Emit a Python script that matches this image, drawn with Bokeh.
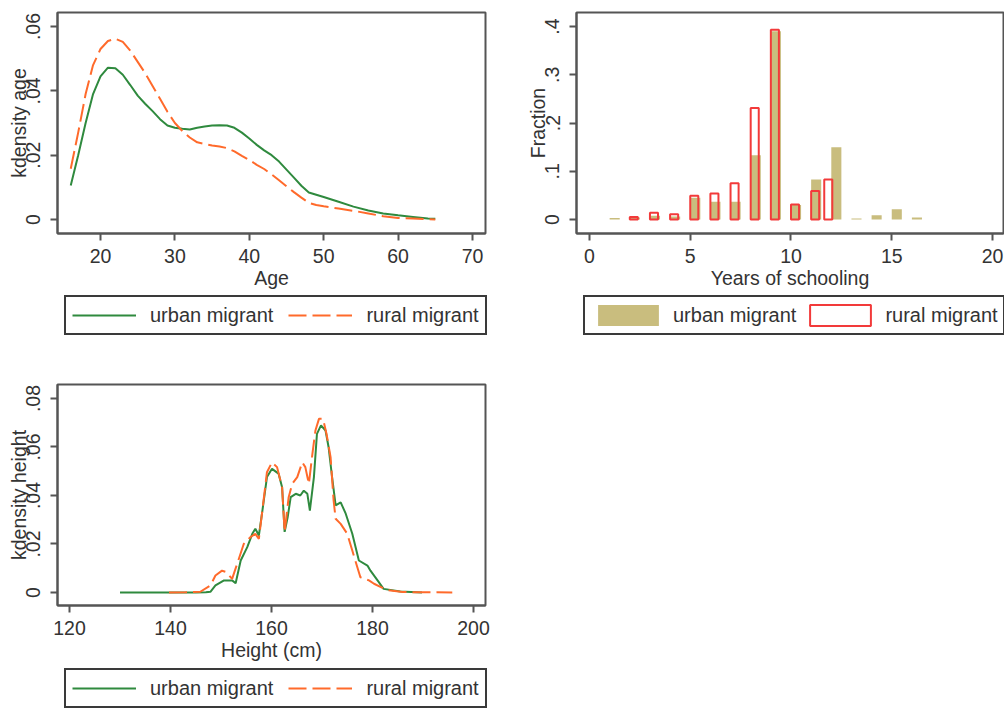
from bokeh.plotting import figure
from bokeh.layouts import column, row
from bokeh.models import Range1d, FixedTicker, Legend, LegendItem
from bokeh.embed import file_html
from bokeh.resources import INLINE

# ---------------- data ----------------
age = [16, 17, 18, 19, 20, 21, 22, 23, 24, 25, 26, 27, 28, 29, 30, 31, 32, 33, 34, 35,
       36, 37, 38, 39, 40, 41, 42, 43, 44, 45, 46, 47, 48, 49, 50, 52, 54, 56, 58, 60,
       62, 64, 65]
age_urban = [.0106, .020, .030, .039, .0445, .0472, .0470, .0450, .0418, .0385, .0360,
             .0337, .0312, .0292, .0285, .0282, .0280, .0285, .0289, .0292, .0293, .0292,
             .0285, .0270, .0252, .0232, .0215, .0200, .0180, .0155, .0130, .0105, .0084,
             .0077, .0070, .0055, .0040, .0028, .0019, .0013, .0008, .0003, .0002]
age_rural = [.0158, .027, .039, .048, .0530, .0555, .0562, .0552, .0525, .0490, .0455,
             .0415, .0375, .0335, .0300, .0275, .0255, .0240, .0235, .0230, .0227, .0222,
             .0212, .0198, .0185, .0170, .0157, .0140, .0122, .0103, .0085, .0068, .0052,
             .0045, .0041, .0034, .0027, .0019, .0010, .0005, .0003, .0001, .0]

school_urban_years = [1, 2, 3, 4, 5, 6, 7, 8, 9, 10, 11, 12, 13, 14, 15, 16]
school_urban_frac = [0.003, 0.004, 0.008, 0.006, 0.045, 0.037, 0.037, 0.133, 0.390, 0.030,
                     0.083, 0.150, 0.002, 0.009, 0.021, 0.004]
school_rural_years = [2, 3, 4, 5, 6, 7, 8, 9, 10, 11, 11.65]
school_rural_frac = [0.005, 0.014, 0.011, 0.049, 0.054, 0.075, 0.231, 0.393, 0.031, 0.059, 0.083]

height_urban_x = [130, 135, 140, 145, 147, 147.9, 148.9, 150.6, 152.2, 152.9, 153.9, 155.2,
                  156.2, 156.8, 157.5, 158.2, 159.1, 160.1, 161.4, 162.1, 162.6, 163.2, 163.8,
                  164.8, 165.7, 166.4, 167.1, 167.6, 168.4, 169.0, 169.8, 170.7, 171.3, 172.0,
                  172.7, 173.7, 174.7, 176.0, 177.3, 179.0, 179.6, 181.0, 182.2, 185.5, 189.8]
height_urban_y = [0, 0, 0, 0, .0001, .0003, .0029, .005, .005, .0038, .0132, .0187, .0242,
                  .0263, .0235, .0338, .0476, .051, .049, .0434, .025, .031, .0393, .0407,
                  .040, .042, .0407, .0338, .0476, .0654, .0689, .0668, .060, .0476, .0359,
                  .0372, .0325, .0242, .0132, .0111, .009, .005, .0015, .0004, 0]
height_rural_x = [139.7, 143, 145.9, 147.9, 148.9, 150.2, 151.0, 152.2, 153.2, 154.5, 155.8,
                  156.8, 157.5, 158.2, 159.1, 160.1, 161.1, 162.1, 162.6, 163.4, 164.1, 165.1,
                  166.1, 166.7, 167.4, 168.1, 168.7, 169.4, 170.2, 170.9, 171.7, 172.3, 172.7,
                  173.7, 175.0, 176.0, 177.0, 177.6, 179.3, 180.3, 182.9, 186.0, 190.0, 195.8]
height_rural_y = [0, .0001, .0003, .0029, .007, .009, .0085, .0056, .0118, .020, .0228, .0242,
                  .0221, .034, .0496, .0537, .0517, .0434, .0249, .0393, .0448, .0476, .0537,
                  .0517, .0448, .0572, .0668, .0716, .0716, .0654, .0558, .038, .0304, .0283,
                  .0242, .0173, .0104, .0063, .005, .0036, .001, .0002, .0001, 0]

age_xticks = [20, 30, 40, 50, 60, 70]
age_yticks = [0, 0.02, 0.04, 0.06]
age_ylabels = ["0", ".02", ".04", ".06"]
school_xticks = [0, 5, 10, 15, 20]
school_yticks = [0, 0.1, 0.2, 0.3, 0.4]
school_ylabels = ["0", ".1", ".2", ".3", ".4"]
height_xticks = [120, 140, 160, 180, 200]
height_yticks = [0, 0.02, 0.04, 0.06, 0.08]
height_ylabels = ["0", ".02", ".04", ".06", ".08"]
series_names = ["urban migrant", "rural migrant"]

# ---------------- style ----------------
FONT = "Liberation Sans"
TEXT = "#333333"
AX = "#555555"
GREEN = "#2f8a3e"
ORANGE = "#ff6a2b"
OLIVE = "#c9bd7e"
RED = "#f23a3a"
FS = "19.5px"
LFS = "20px"
DASH = "18 6"
NAN = float("nan")


def make_fig(w, h, left, right, top, bottom, xr, yr):
    p = figure(width=w, height=h, x_range=Range1d(*xr), y_range=Range1d(*yr),
               output_backend="svg", toolbar_location=None, title=None,
               min_border_left=left, min_border_right=right,
               min_border_top=top, min_border_bottom=bottom)
    p.background_fill_color = "white"
    p.border_fill_color = "white"
    p.outline_line_color = AX
    p.outline_line_width = 2
    p.xgrid.visible = False
    p.ygrid.visible = False
    return p


def style_axes(p, xticks, yticks, ylabels, xlabel, ylabel):
    p.xaxis.ticker = FixedTicker(ticks=xticks)
    p.yaxis.ticker = FixedTicker(ticks=yticks)
    p.yaxis.major_label_overrides = {t: s for t, s in zip(yticks, ylabels)}
    p.yaxis.major_label_orientation = "vertical"
    p.xaxis.axis_label = xlabel
    p.yaxis.axis_label = ylabel
    for ax in (p.xaxis[0], p.yaxis[0]):
        ax.axis_line_color = AX
        ax.axis_line_width = 2
        ax.major_tick_line_color = AX
        ax.major_tick_line_width = 2
        ax.major_tick_out = 7
        ax.major_tick_in = 0
        ax.minor_tick_line_color = None
        ax.major_label_text_font = FONT
        ax.major_label_text_font_size = FS
        ax.major_label_text_color = TEXT
        ax.axis_label_text_font = FONT
        ax.axis_label_text_font_size = FS
        ax.axis_label_text_font_style = "normal"
        ax.axis_label_text_color = TEXT
    p.xaxis.major_label_standoff = 8
    p.xaxis.axis_label_standoff = 1
    p.yaxis.major_label_standoff = 10
    p.yaxis.axis_label_standoff = -6


def legend_fig(w, h, kind, loc, gw, gh, standoff, spacing, padding):
    f = figure(width=w, height=h, x_range=Range1d(0, 1), y_range=Range1d(0, 1),
               output_backend="svg", toolbar_location=None, title=None,
               x_axis_location=None, y_axis_location=None,
               min_border_left=0, min_border_right=0, min_border_top=0, min_border_bottom=0)
    f.outline_line_color = None
    f.background_fill_color = "white"
    f.border_fill_color = "white"
    f.grid.visible = False
    if kind == "lines":
        ra = f.line(x=[NAN], y=[NAN], line_color=GREEN, line_width=2)
        rb = f.line(x=[NAN], y=[NAN], line_color=ORANGE, line_width=2, line_dash=DASH)
    else:
        ra = f.vbar(x=[NAN], top=[NAN], width=0.5, fill_color=OLIVE, line_color=None)
        rb = f.vbar(x=[NAN], top=[NAN], width=0.5, fill_alpha=0, line_color=RED, line_width=2)
    leg = Legend(items=[LegendItem(label=series_names[0], renderers=[ra]),
                        LegendItem(label=series_names[1], renderers=[rb])],
                 orientation="horizontal", location=loc,
                 glyph_width=gw, glyph_height=gh, label_standoff=standoff,
                 spacing=spacing, padding=padding, margin=0,
                 label_text_font=FONT, label_text_font_size=LFS, label_text_color=TEXT,
                 border_line_color="#3a3a3a", border_line_width=2, border_line_alpha=1,
                 background_fill_color="white", background_fill_alpha=1)
    f.add_layout(leg, "center")
    return f


# ---------- panel 1: age ----------
p1 = make_fig(500, 295, 57, 15, 12, 62, (14.22, 71.75), (-0.00435, 0.06435))
p1.line(age, age_urban, line_color=GREEN, line_width=2)
p1.line(age, age_rural, line_color=ORANGE, line_width=2, line_dash=DASH)
style_axes(p1, age_xticks, age_yticks, age_ylabels, "Age", "kdensity age")

# ---------- panel 2: schooling ----------
p2 = make_fig(504, 295, 76, 1, 12, 62, (-0.645, 20.546), (-0.029, 0.429))
p2.vbar(x=[y + 0.25 for y in school_urban_years], top=school_urban_frac, bottom=0,
        width=0.5, fill_color=OLIVE, line_color=None)
p2.vbar(x=[y + 0.2 for y in school_rural_years], top=school_rural_frac, bottom=0,
        width=0.4, fill_alpha=0, line_color=RED, line_width=2)
style_axes(p2, school_xticks, school_yticks, school_ylabels, "Years of schooling", "Fraction")

# ---------- panel 3: height ----------
p3 = make_fig(500, 320, 57, 15, 39, 60, (117.62, 202.38), (-0.00536, 0.08577))
p3.line(height_urban_x, height_urban_y, line_color=GREEN, line_width=2)
p3.line(height_rural_x, height_rural_y, line_color=ORANGE, line_width=2, line_dash=DASH)
style_axes(p3, height_xticks, height_yticks, height_ylabels, "Height (cm)", "kdensity height")

# ---------- legends ----------
L1 = legend_fig(500, 50, "lines", (64, 10), 64, 24, 14, 15, 6)
L2 = legend_fig(504, 50, "bars", (83, 10), 76, 26, 7, 6, 5)
L3 = legend_fig(500, 43, "lines", (64, 0), 64, 24, 14, 15, 6)

layout = column(row(p1, p2), row(L1, L2), row(p3), row(L3))
open("out.html", "w").write(file_html(layout, INLINE))
